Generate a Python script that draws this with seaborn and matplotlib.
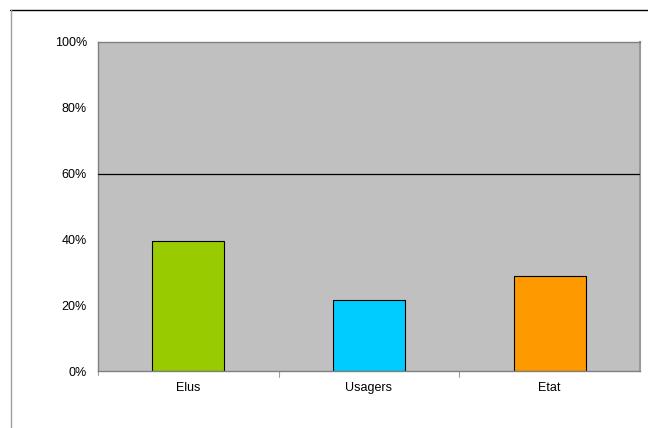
import matplotlib
matplotlib.use("Agg")
import matplotlib.pyplot as plt
import seaborn as sns
import pandas as pd
from matplotlib.lines import Line2D

categories = ["Elus", "Usagers", "Etat"]
values = [39.5, 21.6, 28.9]
colors = ["#99CC00", "#00CCFF", "#FF9900"]
yticks = [0, 20, 40, 60, 80, 100]
ytick_labels = ["0%", "20%", "40%", "60%", "80%", "100%"]
ref_value = 60

sns.set_theme(style="white")
plt.rcParams["font.family"] = ["Liberation Sans", "DejaVu Sans"]

df = pd.DataFrame({"cat": categories, "val": values})

fig = plt.figure(figsize=(6.48, 4.28), dpi=100)
W, H = 648, 428
ax = fig.add_axes([98 / W, 1 - 371 / H, (640 - 98) / W, (371 - 42) / H])
ax.set_facecolor("#C0C0C0")

sns.barplot(data=df, x="cat", y="val", hue="cat", palette=colors, legend=False,
            width=0.4, edgecolor="black", linewidth=0.8, saturation=1, ax=ax)

ax.axhline(ref_value, color="black", linewidth=0.9, zorder=3)
ax.set_ylim(0, 100)
ax.set_xlim(-0.5, 2.5)
ax.set_yticks(yticks)
ax.set_yticklabels(ytick_labels, fontsize=9, color="black")
ax.set_xticks([0, 1, 2])
ax.set_xticklabels(categories, fontsize=9, color="black")
ax.tick_params(axis="x", length=0, pad=8)
ax.tick_params(axis="y", length=0, pad=8)
# category separators below axis
for xb in [0.5, 1.5]:
    ax.plot([xb, xb], [0, -1.8], color="#A0A0A0", linewidth=0.8, clip_on=False)
ax.plot([-0.5, -0.5], [0, -1.2], color="#A0A0A0", linewidth=0.8, clip_on=False)
ax.set_xlabel("")
ax.set_ylabel("")
for side in ["top", "left", "bottom"]:
    ax.spines[side].set_color("#808080")
    ax.spines[side].set_linewidth(1.0)
ax.spines["right"].set_color("#999999")
ax.spines["right"].set_linewidth(1.5)

# outer frame lines (top and left)
fig.add_artist(Line2D([10 / W, 1.0], [1 - 10 / H, 1 - 10 / H], transform=fig.transFigure,
                      color="black", linewidth=1.0))
fig.add_artist(Line2D([11 / W, 11 / W], [1 - 10 / H, 0.0], transform=fig.transFigure,
                      color="#A0A0A0", linewidth=1.0))

fig.savefig("out.png", dpi=100, facecolor="white")
